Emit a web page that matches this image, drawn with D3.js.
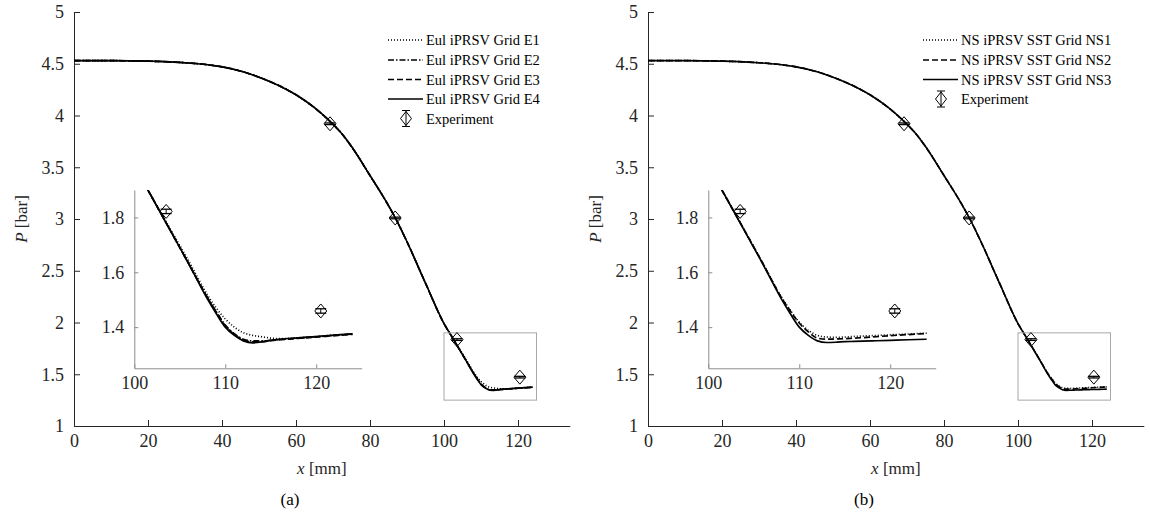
<!DOCTYPE html>
<html>
<head>
<meta charset="utf-8">
<script src="https://cdn.jsdelivr.net/npm/d3@7"></script>
<style>
  body { margin: 0; background: #fff; }
  svg { font-family: "Liberation Serif", "Times New Roman", serif; }
</style>
</head>
<body>
<div id="chart"></div>
<script>
// x positions along the nozzle [mm]
var xGrid = [0, 10, 20, 30, 35, 40, 45, 50, 55, 60, 65, 70, 72, 75, 80, 85, 87, 90, 95, 100,
             102, 104, 106, 108, 109, 110, 111, 112, 113, 114, 115, 116, 118, 120, 122, 124];

var common = [4.53, 4.53, 4.525, 4.51, 4.495, 4.47, 4.43, 4.37, 4.295, 4.20, 4.075, 3.915, 3.84, 3.70, 3.42, 3.13, 3.00, 2.78, 2.38, 1.99,
              1.87];

// pressure [bar] - Euler grids
var eulE1 = common.concat([1.755, 1.64, 1.52, 1.47, 1.43, 1.40, 1.38, 1.37, 1.365, 1.36, 1.358, 1.361, 1.366, 1.371, 1.376]);
var eulE2 = common.concat([1.75, 1.63, 1.51, 1.457, 1.408, 1.376, 1.356, 1.35, 1.35, 1.352, 1.355, 1.36, 1.365, 1.37, 1.375]);
var eulE3 = common.concat([1.75, 1.63, 1.51, 1.455, 1.405, 1.373, 1.353, 1.346, 1.347, 1.351, 1.354, 1.359, 1.364, 1.369, 1.374]);
var eulE4 = common.concat([1.75, 1.63, 1.505, 1.45, 1.40, 1.37, 1.35, 1.343, 1.346, 1.352, 1.356, 1.361, 1.366, 1.371, 1.376]);

// pressure [bar] - Navier-Stokes grids
var nsNS1 = common.concat([1.752, 1.633, 1.512, 1.462, 1.418, 1.388, 1.37, 1.364, 1.363, 1.364, 1.366, 1.369, 1.372, 1.375, 1.378]);
var nsNS2 = common.concat([1.752, 1.632, 1.51, 1.46, 1.415, 1.383, 1.36, 1.356, 1.357, 1.358, 1.36, 1.364, 1.369, 1.373, 1.377]);
var nsNS3 = common.concat([1.75, 1.63, 1.505, 1.45, 1.40, 1.37, 1.35, 1.344, 1.345, 1.347, 1.348, 1.35, 1.352, 1.354, 1.356]);

// experiment
var expX = [69.2, 86.8, 103.5, 120.5];
var expP = [3.92, 3.01, 1.835, 1.472];
var expErr = [0.008, 0.008, 0.008, 0.008];

var yTicks = [1, 1.5, 2, 2.5, 3, 3.5, 4, 4.5, 5];
var xTicks = [0, 20, 40, 60, 80, 100, 120];
var insetXTicks = [100, 110, 120];
var insetYTicks = [1.4, 1.6, 1.8];

var eulLabels = ["Eul iPRSV Grid E1", "Eul iPRSV Grid E2", "Eul iPRSV Grid E3", "Eul iPRSV Grid E4"];
var nsLabels = ["NS iPRSV SST Grid NS1", "NS iPRSV SST Grid NS2", "NS iPRSV SST Grid NS3"];

var axisColor = "#262626";
var tickFont = "18px";

var svg = d3.select("#chart").append("svg")
    .attr("width", 1150)
    .attr("height", 521);

function drawExp(g, x, y, px, py, err) {
    var cx = x(px), cy = y(py);
    g.append("path")
        .attr("d", "M" + cx + "," + (cy - 7) + "L" + (cx + 6) + "," + cy + "L" + cx + "," + (cy + 7) + "L" + (cx - 6) + "," + cy + "Z")
        .attr("fill", "none").attr("stroke", "#000").attr("stroke-width", 1);
    var y1 = y(py - err), y2 = y(py + err);
    g.append("line").attr("x1", cx).attr("x2", cx).attr("y1", y1).attr("y2", y2)
        .attr("stroke", "#000");
    [y1, y2].forEach(function(yy) {
        g.append("line").attr("x1", cx - 5.5).attr("x2", cx + 5.5).attr("y1", yy).attr("y2", yy)
            .attr("stroke", "#000").attr("stroke-width", 1.3);
    });
}

function drawPanel(left, series, labels, dashes, legendX, expRow, caption) {
    var g = svg.append("g").attr("transform", "translate(" + left + ",0)");

    var x = d3.scaleLinear().domain([0, 134]).range([0, 495.8]);
    var y = d3.scaleLinear().domain([1, 5]).range([426, 12]);

    // axes
    var yAxis = g.append("g")
        .call(d3.axisLeft(y).tickValues(yTicks).tickFormat(d3.format("")).tickSizeInner(-6).tickSizeOuter(0).tickPadding(10));
    var xAxis = g.append("g").attr("transform", "translate(0,426)")
        .call(d3.axisBottom(x).tickValues(xTicks).tickSizeInner(-6).tickSizeOuter(0).tickPadding(8));
    [xAxis, yAxis].forEach(function(a) {
        a.select(".domain").attr("stroke", axisColor);
        a.selectAll(".tick line").attr("stroke", axisColor);
        a.selectAll(".tick text").attr("fill", axisColor).style("font-size", tickFont).style("font-family", "Liberation Serif");
    });

    // axis labels
    g.append("text")
        .attr("transform", "translate(-47,219) rotate(-90)")
        .attr("text-anchor", "middle")
        .style("font-size", "17px").attr("fill", axisColor)
        .html('<tspan font-style="italic">P</tspan> [bar]');
    g.append("text")
        .attr("x", x(67)).attr("y", 474)
        .attr("text-anchor", "middle")
        .style("font-size", "17px").attr("fill", axisColor)
        .html('<tspan font-style="italic">x</tspan> [mm]');
    g.append("text")
        .attr("x", 216).attr("y", 505)
        .attr("text-anchor", "middle")
        .style("font-size", "17px").attr("fill", "#000")
        .text(caption);

    var line = d3.line()
        .x(function(d) { return x(d[0]); })
        .y(function(d) { return y(d[1]); })
        .curve(d3.curveMonotoneX);

    series.forEach(function(s, i) {
        g.append("path")
            .datum(xGrid.map(function(xx, j) { return [xx, s[j]]; }))
            .attr("d", line)
            .attr("fill", "none")
            .attr("stroke", "#000")
            .attr("stroke-width", 1.6)
            .attr("stroke-dasharray", dashes[i]);
    });

    // zoom box
    g.append("rect")
        .attr("x", x(100)).attr("y", y(1.9))
        .attr("width", x(125) - x(100)).attr("height", y(1.25) - y(1.9))
        .attr("fill", "none").attr("stroke", "#a8a8a8").attr("stroke-width", 1);

    expX.forEach(function(ex, i) { drawExp(g, x, y, ex, expP[i], expErr[i]); });

    // legend
    var lg = g.append("g");
    var rowY = [40, 60, 79.5, 99, 118.5];
    labels.forEach(function(lab, i) {
        lg.append("line")
            .attr("x1", legendX - 38).attr("x2", legendX - 3)
            .attr("y1", rowY[i]).attr("y2", rowY[i])
            .attr("stroke", "#000").attr("stroke-width", 1.3)
            .attr("stroke-dasharray", dashes[i]);
        lg.append("text").attr("x", legendX).attr("y", rowY[i] + 5)
            .style("font-size", "14.5px").text(lab);
    });
    var ey = rowY[expRow];
    var ecx = legendX - 20;
    lg.append("path")
        .attr("d", "M" + ecx + "," + (ey - 7) + "L" + (ecx + 5.5) + "," + ey + "L" + ecx + "," + (ey + 7) + "L" + (ecx - 5.5) + "," + ey + "Z")
        .attr("fill", "none").attr("stroke", "#000");
    lg.append("line").attr("x1", ecx).attr("x2", ecx).attr("y1", ey - 8).attr("y2", ey + 8).attr("stroke", "#000");
    [ey - 8, ey + 8].forEach(function(yy) {
        lg.append("line").attr("x1", ecx - 4).attr("x2", ecx + 4).attr("y1", yy).attr("y2", yy).attr("stroke", "#000");
    });
    lg.append("text").attr("x", legendX).attr("y", ey + 5)
        .style("font-size", "14.5px").text("Experiment");

    // inset
    var ix = d3.scaleLinear().domain([100, 125]).range([60.3, 287.7]);
    var iy = d3.scaleLinear().domain([1.25, 1.9]).range([368.3, 190]);
    var ig = g.append("g");
    var clipId = "clip" + left;
    ig.append("clipPath").attr("id", clipId).append("rect")
        .attr("x", ix(100)).attr("y", iy(1.9))
        .attr("width", ix(125) - ix(100)).attr("height", iy(1.25) - iy(1.9));

    var iyAxis = ig.append("g").attr("transform", "translate(" + ix(100) + ",0)")
        .call(d3.axisLeft(iy).tickValues(insetYTicks).tickFormat(d3.format(".1f")).tickSizeInner(-4).tickSizeOuter(0).tickPadding(10));
    var ixAxis = ig.append("g").attr("transform", "translate(0," + iy(1.25) + ")")
        .call(d3.axisBottom(ix).tickValues(insetXTicks).tickSizeInner(-4).tickSizeOuter(0).tickPadding(8));
    [ixAxis, iyAxis].forEach(function(a) {
        a.select(".domain").attr("stroke", "#8c8c8c");
        a.selectAll(".tick line").attr("stroke", "#8c8c8c");
        a.selectAll(".tick text").attr("fill", axisColor).style("font-size", tickFont).style("font-family", "Liberation Serif");
    });

    var iline = d3.line()
        .x(function(d) { return ix(d[0]); })
        .y(function(d) { return iy(d[1]); })
        .curve(d3.curveMonotoneX);

    var curves = ig.append("g").attr("clip-path", "url(#" + clipId + ")");
    series.forEach(function(s, i) {
        curves.append("path")
            .datum(xGrid.map(function(xx, j) { return [xx, s[j]]; }).filter(function(d) { return d[0] >= 95; }))
            .attr("d", iline)
            .attr("fill", "none")
            .attr("stroke", "#000")
            .attr("stroke-width", 1.7)
            .attr("stroke-dasharray", dashes[i]);
    });
    expX.forEach(function(ex, i) {
        if (ex >= 100) drawExp(ig, ix, iy, ex, expP[i] - 0.013, expErr[i]);
    });
}

drawPanel(74, [eulE1, eulE2, eulE3, eulE4], eulLabels, ["1,2", "6,2,1.5,2", "6,3", null], 352, 4, "(a)");
drawPanel(648, [nsNS1, nsNS2, nsNS3], nsLabels, ["1,2", "6,3", null], 313, 3, "(b)");
</script>
</body>
</html>
